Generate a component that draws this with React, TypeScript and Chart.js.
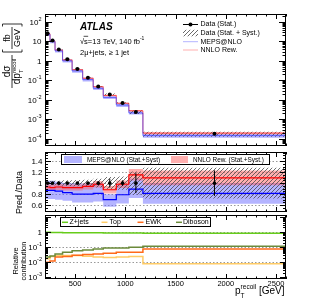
import React, { useEffect, useRef } from "react";
import { Chart, registerables } from "chart.js";

Chart.register(...registerables);

// ---------------- data ----------------
const binEdges = [200, 250, 300, 375, 470, 575, 680, 780, 910, 1035, 1175, 2600];
const dataXsec = [26, 11, 3.8, 1.2, 0.38, 0.136, 0.048, 0.019, 0.0068, 0.0024, 0.00018];
const mepsXsec = [22.6, 9.6, 3.25, 1.0, 0.304, 0.109, 0.039, 0.0133, 0.0054, 0.00214, 0.000147];
const nnloXsec = [24.2, 10.1, 3.53, 1.1, 0.35, 0.128, 0.047, 0.0167, 0.0067, 0.00276, 0.000197];
const dataStatUnc = [0.004, 0.005, 0.006, 0.008, 0.012, 0.018, 0.03, 0.08, 0.05, 0.18, 0.23];
const dataTotUnc = [0.04, 0.04, 0.045, 0.05, 0.055, 0.06, 0.08, 0.11, 0.12, 0.21, 0.28];
const dataRatio = [1, 1, 1, 1, 1, 1, 1, 1, 1, 1, 1];
const mepsRatio = [0.87, 0.87, 0.855, 0.83, 0.8, 0.8, 0.815, 0.7, 0.79, 0.89, 0.815];
const mepsUncUp = [0.2, 0.2, 0.2, 0.2, 0.24, 0.24, 0.22, 0.14, 0.23, 0.22, 0.23];
const mepsUncDown = [0.18, 0.18, 0.18, 0.18, 0.19, 0.19, 0.18, 0.18, 0.2, 0.18, 0.23];
const nnloRatio = [0.93, 0.92, 0.93, 0.92, 0.92, 0.94, 0.98, 0.88, 0.98, 1.15, 1.095];
const nnloUnc = [0.055, 0.06, 0.06, 0.06, 0.06, 0.06, 0.06, 0.075, 0.07, 0.09, 0.12];
const zjetsFrac = [0.95, 0.94, 0.92, 0.91, 0.9, 0.89, 0.88, 0.87, 0.86, 0.85, 0.82];
const topFrac = [0.017, 0.024, 0.028, 0.028, 0.028, 0.025, 0.022, 0.021, 0.022, 0.024, 0.008];
const ewkFrac = [0.01, 0.012, 0.022, 0.024, 0.029, 0.033, 0.036, 0.04, 0.046, 0.046, 0.076];
const dibosonFrac = [0.022, 0.026, 0.036, 0.046, 0.059, 0.066, 0.076, 0.087, 0.087, 0.1, 0.115];

const xMajorTicks = [500, 1000, 1500, 2000, 2500];
const xTickLabels = ["500", "1000", "1500", "2000", "2500"];
const ratioTicks = [0.6, 0.8, 1, 1.2, 1.4];
const ratioTickLabels = ["0.6", "0.8", "1", "1.2", "1.4"];
const topDecades = [2, 1, 0, -1, -2, -3, -4];
const fracDecades = [0, -1, -2, -3];

// ---------------- styles ----------------
const FONT = '"Liberation Sans", Arial, Helvetica, sans-serif';
const fnt = (s: number, style = "") => `${style}${s}px ${FONT}`;
const MEPS_FILL = "rgba(105,105,255,0.5)";
const NNLO_FILL = "rgba(255,95,95,0.5)";
const MEPS_LEG = "rgb(180,180,255)";
const NNLO_LEG = "rgb(255,175,175)";

const binCenters = binEdges.slice(0, -1).map((e, i) => (e + binEdges[i + 1]) / 2);
const steps = (vals: number[]) => [
  ...vals.map((v, i) => ({ x: binEdges[i], y: v })),
  { x: binEdges[binEdges.length - 1], y: vals[vals.length - 1] },
];
const errBars = (lo: number[], hi: number[]) =>
  binCenters.flatMap((x, i) => [{ x, y: lo[i] }, { x, y: hi[i] }, { x, y: null }]);
const points = (vals: number[]) => binCenters.map((x, i) => ({ x, y: vals[i] }));

const lineDs = (data: any, color: string, width: number) => ({
  data, borderColor: color, borderWidth: width, pointRadius: 0, stepped: "before", fill: false,
});
const bandDs = (upper: number[], lower: number[], fill: any) => [
  { data: steps(upper), borderColor: "rgba(0,0,0,0)", borderWidth: 0, pointRadius: 0, stepped: "before", fill: "+1", backgroundColor: fill },
  { data: steps(lower), borderColor: "rgba(0,0,0,0)", borderWidth: 0, pointRadius: 0, stepped: "before", fill: false },
];
const pointDs = (data: any, r: number) => ({
  data, showLine: false, pointRadius: r, pointBackgroundColor: "#000", pointBorderColor: "#000", pointBorderWidth: 0, borderColor: "#000",
});

function makeHatch(ctx: CanvasRenderingContext2D, color: string, sp = 4) {
  const c = document.createElement("canvas");
  c.width = sp; c.height = sp;
  const g = c.getContext("2d") as CanvasRenderingContext2D;
  g.strokeStyle = color; g.lineWidth = 0.9;
  g.beginPath();
  g.moveTo(0, sp); g.lineTo(sp, 0);
  g.moveTo(-1, 1); g.lineTo(1, -1);
  g.moveTo(sp - 1, sp + 1); g.lineTo(sp + 1, sp - 1);
  g.stroke();
  return ctx.createPattern(c, "repeat");
}

function richText(ctx: CanvasRenderingContext2D, parts: { t: string; s: number; dy?: number; st?: string }[], x: number, y: number, align = "left") {
  let w = 0;
  for (const p of parts) { ctx.font = fnt(p.s, p.st || ""); w += ctx.measureText(p.t).width; }
  let cx = align === "left" ? x : align === "right" ? x - w : x - w / 2;
  ctx.textAlign = "left";
  ctx.textBaseline = "alphabetic";
  for (const p of parts) {
    ctx.font = fnt(p.s, p.st || "");
    ctx.fillText(p.t, cx, y + (p.dy || 0));
    cx += ctx.measureText(p.t).width;
  }
  return w;
}

function powLabel(ctx: CanvasRenderingContext2D, e: number, xr: number, yc: number) {
  ctx.fillStyle = "#000";
  if (e === 0) richText(ctx, [{ t: "1", s: 8 }], xr, yc + 3, "right");
  else if (e === 1) richText(ctx, [{ t: "10", s: 8 }], xr, yc + 3, "right");
  else richText(ctx, [{ t: "10", s: 8 }, { t: String(e), s: 5.5, dy: -4 }], xr, yc + 3, "right");
}

function drawAxes(chart: any, o: { yTicks: [number, boolean][]; yMaj: number; yMin: number; xMaj: number; xMin: number }) {
  const { ctx, chartArea: a } = chart;
  const xs = chart.scales.x, ys = chart.scales.y;
  ctx.save();
  ctx.strokeStyle = "#000"; ctx.lineWidth = 1; ctx.setLineDash([]);
  ctx.beginPath();
  for (let v = 200; v <= 2600; v += 100) {
    const px = Math.round(xs.getPixelForValue(v)) + 0.5;
    const len = xMajorTicks.includes(v) ? o.xMaj : o.xMin;
    ctx.moveTo(px, a.bottom); ctx.lineTo(px, a.bottom - len);
    ctx.moveTo(px, a.top); ctx.lineTo(px, a.top + len);
  }
  for (const [v, major] of o.yTicks) {
    const py = Math.round(ys.getPixelForValue(v)) + 0.5;
    if (py < a.top || py > a.bottom) continue;
    const len = major ? o.yMaj : o.yMin;
    ctx.moveTo(a.left, py); ctx.lineTo(a.left + len, py);
    ctx.moveTo(a.right, py); ctx.lineTo(a.right - len, py);
  }
  ctx.stroke();
  ctx.strokeRect(a.left + 0.5, a.top + 0.5, a.right - a.left - 1, a.bottom - a.top - 1);
  ctx.restore();
}

function logTicks(lo: number, hi: number): [number, boolean][] {
  const t: [number, boolean][] = [];
  for (let k = lo; k <= hi; k++) for (let m = 1; m <= 9; m++) t.push([m * Math.pow(10, k), m === 1]);
  return t;
}

function dottedGrid(chart: any, vals: number[]) {
  const { ctx, chartArea: a } = chart;
  ctx.save();
  ctx.strokeStyle = "#999"; ctx.lineWidth = 1; ctx.setLineDash([1.5, 2]);
  ctx.beginPath();
  for (const v of vals) {
    const py = Math.round(chart.scales.y.getPixelForValue(v)) + 0.5;
    ctx.moveTo(a.left, py); ctx.lineTo(a.right, py);
  }
  ctx.stroke();
  ctx.restore();
}

const baseOptions = (padding: any, y: any) => ({
  responsive: false,
  animation: false,
  devicePixelRatio: 1,
  events: [],
  layout: { padding },
  plugins: { legend: { display: false }, tooltip: { enabled: false }, title: { display: false } },
  scales: {
    x: { type: "linear", min: 200, max: 2600, display: false },
    y: { ...y, display: false },
  },
  elements: { line: { tension: 0 } },
});

// ---------------- top panel ----------------
function makeTop(canvas: HTMLCanvasElement) {
  const ctx = canvas.getContext("2d") as CanvasRenderingContext2D;
  const hatch = makeHatch(ctx, "rgba(70,70,70,0.9)");
  const datasets: any[] = [
    pointDs(points(dataXsec), 2),
    lineDs(steps(mepsXsec), "rgba(70,70,255,0.75)", 1),
    lineDs(steps(nnloXsec), "rgba(255,60,60,0.8)", 1),
    ...bandDs(dataXsec.map((v, i) => v * (1 + dataTotUnc[i])), dataXsec.map((v, i) => v * (1 - dataTotUnc[i])), hatch),
    ...bandDs(nnloXsec.map((v, i) => v * (1 + nnloUnc[i])), nnloXsec.map((v, i) => v * (1 - nnloUnc[i])), NNLO_FILL),
    ...bandDs(mepsXsec.map((v, i) => v * (1 + mepsUncUp[i])), mepsXsec.map((v, i) => v * (1 - mepsUncDown[i])), MEPS_FILL),
  ];
  const deco = {
    id: "topDeco",
    afterDraw(chart: any) {
      const c = chart.ctx as CanvasRenderingContext2D;
      const ys = chart.scales.y;
      drawAxes(chart, { yTicks: logTicks(-5, 2), yMaj: 7, yMin: 3.5, xMaj: 5, xMin: 2.5 });
      c.save();
      c.fillStyle = "#000";
      for (const e of topDecades) powLabel(c, e, 41.5, ys.getPixelForValue(Math.pow(10, e)));
      // ATLAS label
      c.font = fnt(10, "italic bold ");
      c.textAlign = "left"; c.textBaseline = "alphabetic";
      c.fillText("ATLAS", 80, 30);
      c.font = fnt(7.5);
      const rw = c.measureText("√").width;
      c.fillText("√", 80, 43.5);
      const sw = c.measureText("s").width;
      c.fillText("s", 80 + rw, 43.5);
      c.strokeStyle = "#000"; c.lineWidth = 0.7;
      c.beginPath(); c.moveTo(80 + rw - 0.5, 36.3); c.lineTo(80 + rw + sw + 0.3, 36.3); c.stroke();
      richText(c, [{ t: "=13 TeV, 140 fb", s: 7.5 }, { t: "-1", s: 5, dy: -3.5 }], 80 + rw + sw, 43.5);
      richText(c, [{ t: "2μ+jets, ≥ 1 jet", s: 7.5 }], 80, 54.5);
      // legend
      const lx0 = 183, lx1 = 198, tx = 200.5;
      const ly = [24, 32.8, 41.2, 49.5];
      c.lineWidth = 1;
      c.strokeStyle = "#000";
      c.beginPath(); c.moveTo(lx0, ly[0] + 0.5); c.lineTo(lx1, ly[0] + 0.5); c.stroke();
      c.beginPath(); c.arc(190.5, ly[0] + 0.5, 2, 0, Math.PI * 2); c.fill();
      c.fillStyle = hatch as any;
      c.fillRect(lx0, ly[1] - 3, lx1 - lx0, 6.5);
      c.strokeStyle = MEPS_LEG;
      c.beginPath(); c.moveTo(lx0, ly[2] + 0.5); c.lineTo(lx1, ly[2] + 0.5); c.stroke();
      c.strokeStyle = NNLO_LEG;
      c.beginPath(); c.moveTo(lx0, ly[3] + 0.5); c.lineTo(lx1, ly[3] + 0.5); c.stroke();
      c.fillStyle = "#000";
      c.font = fnt(7); c.textBaseline = "middle"; c.textAlign = "left";
      c.fillText("Data (Stat.)", tx, ly[0] + 0.5);
      c.fillText("Data (Stat. + Syst.)", tx, ly[1] + 0.5);
      c.fillText("MEPS@NLO", tx, ly[2] + 0.5);
      c.fillText("NNLO Rew.", tx, ly[3] + 0.5);
      // y title (rotated)
      c.translate(11.5, 88);
      c.rotate(-Math.PI / 2);
      c.textBaseline = "alphabetic";
      c.strokeStyle = "#000"; c.lineWidth = 0.8;
      c.beginPath(); c.moveTo(0, 0.5); c.lineTo(33, 0.5); c.stroke();
      c.textAlign = "center"; c.font = fnt(10);
      c.fillText("dσ", 16.5, -2);
      c.font = fnt(10);
      const dpw = c.measureText("dp").width;
      c.font = fnt(6);
      const recw = c.measureText("recoil").width;
      const st = 16.5 - (dpw + recw) / 2;
      c.textAlign = "left";
      c.font = fnt(10); c.fillText("dp", st, 8.5);
      c.font = fnt(6); c.fillText("recoil", st + dpw, 4.2);
      c.fillText("T", st + dpw, 11.5);
      // bracket fraction
      c.beginPath();
      c.moveTo(38.5, -9); c.lineTo(36, -9); c.lineTo(36, 10.5); c.lineTo(38.5, 10.5);
      c.moveTo(61.5, -9); c.lineTo(64, -9); c.lineTo(64, 10.5); c.lineTo(61.5, 10.5);
      c.moveTo(39, 0.5); c.lineTo(61, 0.5);
      c.stroke();
      c.textAlign = "center"; c.font = fnt(9);
      c.fillText("fb", 50, -2);
      c.fillText("GeV", 50, 8.5);
      c.restore();
    },
  };
  return new Chart(canvas, {
    type: "line",
    data: { datasets },
    options: baseOptions({ left: 45, right: 29, top: 14, bottom: 1 }, { type: "logarithmic", min: 4.3e-5, max: 251 }) as any,
    plugins: [deco],
  } as any);
}

// ---------------- ratio panel ----------------
function makeRatio(canvas: HTMLCanvasElement) {
  const ctx = canvas.getContext("2d") as CanvasRenderingContext2D;
  const hatch = makeHatch(ctx, "rgba(70,70,70,0.85)");
  const datasets: any[] = [
    pointDs(points(dataRatio), 1.8),
    { data: errBars(dataRatio.map((v, i) => v - dataStatUnc[i]), dataRatio.map((v, i) => v + dataStatUnc[i])), borderColor: "#000", borderWidth: 1, pointRadius: 0, spanGaps: false, fill: false },
    lineDs(steps(nnloRatio), "#ff0000", 1.2),
    lineDs(steps(mepsRatio), "#0000ff", 1.2),
    ...bandDs(dataRatio.map((v, i) => v + dataTotUnc[i]), dataRatio.map((v, i) => v - dataTotUnc[i]), hatch),
    ...bandDs(nnloRatio.map((v, i) => v * (1 + nnloUnc[i])), nnloRatio.map((v, i) => v * (1 - nnloUnc[i])), NNLO_FILL),
    ...bandDs(mepsRatio.map((v, i) => v * (1 + mepsUncUp[i])), mepsRatio.map((v, i) => v * (1 - mepsUncDown[i])), MEPS_FILL),
  ];
  const yt: [number, boolean][] = [];
  for (let k = 10; k <= 31; k++) yt.push([k * 0.05, k % 4 === 0]);
  const deco = {
    id: "ratioDeco",
    beforeDatasetsDraw(chart: any) { dottedGrid(chart, ratioTicks); },
    afterDraw(chart: any) {
      const c = chart.ctx as CanvasRenderingContext2D;
      const ys = chart.scales.y;
      drawAxes(chart, { yTicks: yt, yMaj: 6, yMin: 3, xMaj: 5, xMin: 2.5 });
      c.save();
      c.fillStyle = "#000";
      ratioTicks.forEach((v, i) => richText(c, [{ t: ratioTickLabels[i], s: 8 }], 42.5, ys.getPixelForValue(v) + 3, "right"));
      // legend box
      c.fillStyle = "#fff";
      c.fillRect(61, 6, 209, 10.5);
      c.strokeStyle = "#000"; c.lineWidth = 1;
      c.strokeRect(61.5, 6.5, 208, 10);
      c.fillStyle = MEPS_LEG; c.fillRect(64, 8, 18, 7);
      c.fillStyle = NNLO_LEG; c.fillRect(171, 8, 17, 7);
      c.fillStyle = "#000";
      c.font = fnt(6.4); c.textAlign = "left"; c.textBaseline = "middle";
      c.fillText("MEPS@NLO (Stat.+Syst)", 87, 11.8);
      c.fillText("NNLO Rew. (Stat.+Syst.)", 193, 11.8);
      // y title
      c.translate(21.5, 44.5);
      c.rotate(-Math.PI / 2);
      c.textAlign = "center"; c.textBaseline = "alphabetic";
      c.font = fnt(9);
      c.fillText("Pred./Data", 0, 0);
      c.restore();
    },
  };
  return new Chart(canvas, {
    type: "line",
    data: { datasets },
    options: baseOptions({ left: 45, right: 29, top: 0, bottom: 0 }, { type: "linear", min: 0.478, max: 1.563 }) as any,
    plugins: [deco],
  } as any);
}

// ---------------- fraction panel ----------------
function makeFrac(canvas: HTMLCanvasElement) {
  const cols = { z: "#66cc1a", top: "#ffcc66", ewk: "#ff6a1a", dib: "#6b8a3a" };
  const datasets: any[] = [
    lineDs(steps(zjetsFrac), cols.z, 1.5),
    lineDs(steps(dibosonFrac), cols.dib, 1.5),
    lineDs(steps(ewkFrac), cols.ewk, 1.5),
    lineDs(steps(topFrac), cols.top, 1.5),
  ];
  const deco = {
    id: "fracDeco",
    beforeDatasetsDraw(chart: any) { dottedGrid(chart, [1, 0.1, 0.01]); },
    afterDraw(chart: any) {
      const c = chart.ctx as CanvasRenderingContext2D;
      const ys = chart.scales.y;
      const xs = chart.scales.x;
      drawAxes(chart, { yTicks: logTicks(-4, 1), yMaj: 6, yMin: 3, xMaj: 5, xMin: 2.5 });
      c.save();
      c.fillStyle = "#000";
      for (const e of fracDecades) powLabel(c, e, 42, Math.min(ys.getPixelForValue(Math.pow(10, e)), 62));
      xMajorTicks.forEach((v, i) => richText(c, [{ t: xTickLabels[i], s: 7.5 }], xs.getPixelForValue(v), 70.5, "center"));
      // x title
      c.font = fnt(10);
      const pw = c.measureText("p").width;
      const gw = c.measureText(" [GeV]").width;
      c.font = fnt(6.5);
      const rw = c.measureText("recoil").width;
      const x0 = 284.5 - (pw + rw + gw);
      c.textAlign = "left"; c.textBaseline = "alphabetic";
      c.font = fnt(10); c.fillText("p", x0, 79);
      c.font = fnt(6.5); c.fillText("recoil", x0 + pw, 73.5); c.fillText("T", x0 + pw, 82.5);
      c.font = fnt(10); c.fillText(" [GeV]", x0 + pw + rw, 79);
      // legend box
      c.fillStyle = "#fff"; c.fillRect(60, 2, 151, 10);
      c.strokeStyle = "#000"; c.lineWidth = 1; c.strokeRect(60.5, 2.5, 150, 9);
      const ent: [string, string, number, number][] = [
        ["Z+jets", cols.z, 62, 69.5],
        ["Top", cols.top, 101.5, 109.5],
        ["EWK", cols.ewk, 137.5, 145.5],
        ["Diboson", cols.dib, 176, 183],
      ];
      c.font = fnt(7); c.textBaseline = "middle";
      for (const [t, col, lx, tx] of ent) {
        c.strokeStyle = col; c.lineWidth = 1.5;
        c.beginPath(); c.moveTo(lx, 7.3); c.lineTo(lx + 6, 7.3); c.stroke();
        c.fillStyle = "#000"; c.fillText(t, tx, 7.5);
      }
      // y title
      c.translate(18, 46);
      c.rotate(-Math.PI / 2);
      c.textAlign = "center"; c.textBaseline = "alphabetic";
      c.font = fnt(7.5);
      c.fillText("Relative", 0, 0);
      c.fillText("contribution", 0, 7.8);
      c.restore();
    },
  };
  return new Chart(canvas, {
    type: "line",
    data: { datasets },
    options: baseOptions({ left: 45, right: 29, top: 0, bottom: 23 }, { type: "logarithmic", min: 7.9e-4, max: 13.3 }) as any,
    plugins: [deco],
  } as any);
}

export default function App() {
  const r1 = useRef<HTMLCanvasElement>(null);
  const r2 = useRef<HTMLCanvasElement>(null);
  const r3 = useRef<HTMLCanvasElement>(null);
  useEffect(() => {
    const charts = [
      makeTop(r1.current as HTMLCanvasElement),
      makeRatio(r2.current as HTMLCanvasElement),
      makeFrac(r3.current as HTMLCanvasElement),
    ];
    return () => charts.forEach((ch) => ch.destroy());
  }, []);
  return (
    <div style={{ position: "fixed", left: 0, top: 0, width: 315, height: 302, background: "#fff" }}>
      <canvas ref={r1} width={315} height={150} style={{ position: "absolute", left: 0, top: 0, width: 315, height: 150 }} />
      <canvas ref={r2} width={315} height={68} style={{ position: "absolute", left: 0, top: 148, width: 315, height: 68 }} />
      <canvas ref={r3} width={315} height={87} style={{ position: "absolute", left: 0, top: 215, width: 315, height: 87 }} />
    </div>
  );
}
